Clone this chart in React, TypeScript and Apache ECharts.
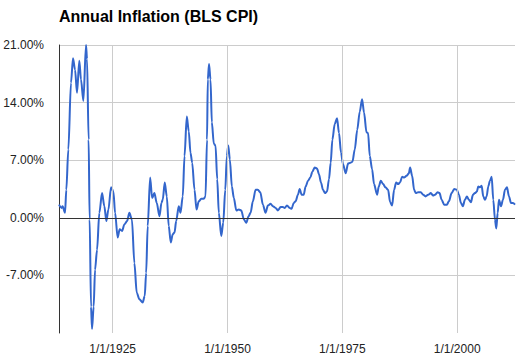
import React, { useEffect, useRef } from "react";
import * as echarts from "echarts";

const titleText = "Annual Inflation (BLS CPI)";

// decimal years
const years: number[] = [
  1913.32, 1913.88, 1914.1, 1914.63, 1914.91, 1915.35, 1915.93, 1916.37, 1916.81, 1917.24,
  1917.74, 1918.11, 1918.62, 1919.2, 1919.42, 1919.77, 1919.99, 1920.29, 1920.51, 1920.86,
  1921.17, 1921.6, 1922.1, 1922.69, 1923.19, 1923.63, 1924.07, 1924.65, 1925.16, 1925.53,
  1926.09, 1926.53, 1927.05, 1927.55, 1928.14, 1928.64, 1929.19, 1929.73, 1930.24, 1930.82,
  1931.54, 1931.98, 1932.29, 1932.63, 1933.16, 1933.59, 1934.09, 1934.6, 1935.19, 1935.62,
  1935.9, 1936.34, 1936.78, 1937.21, 1937.65, 1938.08, 1938.46, 1938.83, 1939.39, 1939.76,
  1940.26, 1940.64, 1941.14, 1941.57, 1941.94, 1942.31, 1942.82, 1943.25, 1943.75, 1944.28,
  1944.78, 1945.21, 1945.54, 1945.71, 1945.98, 1946.3, 1946.59, 1947.02, 1947.39, 1947.76,
  1948.11, 1948.64, 1949.07, 1949.51, 1949.86, 1950.16, 1950.51, 1950.95, 1951.38, 1951.91,
  1952.47, 1953.0, 1953.56, 1954.09, 1954.59, 1955.02, 1955.52, 1956.11, 1956.61, 1957.14,
  1957.7, 1958.29, 1958.79, 1959.38, 1959.88, 1960.47, 1960.97, 1961.56, 1962.06, 1962.44,
  1962.94, 1963.53, 1963.96, 1964.4, 1964.83, 1965.33, 1965.71, 1966.14, 1966.58, 1967.01,
  1967.51, 1968.04, 1968.47, 1968.97, 1969.48, 1969.91, 1970.35, 1970.78, 1971.22, 1971.66,
  1972.09, 1972.46, 1972.83, 1973.34, 1973.84, 1974.27, 1974.71, 1975.15, 1975.73, 1976.24,
  1976.76, 1977.19, 1977.7, 1978.24, 1978.79, 1979.29, 1979.72, 1980.25, 1980.6, 1980.97,
  1981.47, 1981.9, 1982.56, 1982.93, 1983.36, 1983.87, 1984.39, 1984.96, 1985.39, 1985.83,
  1986.26, 1986.7, 1987.14, 1987.57, 1988.01, 1988.44, 1988.97, 1989.47, 1989.75, 1990.19,
  1990.62, 1990.99, 1991.5, 1992.08, 1992.59, 1993.11, 1993.68, 1994.26, 1994.77, 1995.14,
  1995.73, 1996.16, 1996.6, 1997.16, 1997.75, 1998.19, 1998.78, 1999.34, 1999.93, 2000.37,
  2000.81, 2001.24, 2001.68, 2002.11, 2002.55, 2002.99, 2003.42, 2003.86, 2004.29, 2004.58,
  2004.95, 2005.32, 2005.67, 2006.04, 2006.41, 2006.76, 2007.13, 2007.5, 2007.85, 2008.22,
  2008.5, 2008.81, 2009.09, 2009.53, 2009.96, 2010.4, 2010.83, 2011.27, 2011.71, 2012.14,
  2012.58,
];

// annual inflation, percent
const inflation: number[] = [
  1.6, 1.2, 1.4, 0.6, 3.4, 8.3, 16.4, 19.4, 18.0, 15.2,
  19.1, 16.8, 14.2, 21.0, 19.3, 9.5, -0.2, -10.8, -13.5, -10.8,
  -6.3, -3.9, 0.6, 3.0, 1.4, -0.4, 1.0, 3.7, 3.2, 0.6,
  -2.4, -1.4, -1.6, -0.8, -0.4, 0.6, -0.2, -5.5, -9.1, -9.9,
  -10.3, -9.5, -6.7, -1.0, 4.9, 2.4, 3.0, 1.8, 0.2, 1.8,
  2.2, 4.3, 2.6, -1.0, -3.0, -2.0, -1.8, -0.4, 1.4, 0.6,
  2.6, 7.5, 12.3, 10.5, 7.9, 6.7, 3.4, 1.0, 2.0, 2.3,
  2.3, 2.6, 9.5, 16.8, 18.7, 16.8, 11.6, 9.0, 8.8, 4.7,
  0.6, -2.2, -0.6, 3.4, 7.5, 8.8, 7.1, 3.8, 2.4, 0.9,
  1.0, 0.9, -0.2, -0.6, 0.2, 0.6, 2.0, 3.4, 3.4, 3.1,
  1.6, 0.6, 1.5, 1.7, 1.4, 1.2, 0.9, 1.3, 1.3, 1.2,
  1.5, 1.2, 1.1, 1.8, 2.0, 2.8, 3.5, 2.8, 2.8, 3.8,
  4.5, 4.9, 5.6, 6.1, 6.0, 5.3, 4.3, 3.4, 3.0, 3.2,
  4.7, 6.7, 9.5, 11.4, 12.1, 10.3, 7.9, 6.5, 5.4, 6.6,
  6.7, 6.8, 8.3, 10.7, 12.9, 14.4, 12.8, 10.4, 10.3, 7.5,
  5.9, 4.1, 2.8, 3.8, 4.5, 4.1, 3.7, 3.4, 1.9, 1.5,
  3.4, 4.3, 4.1, 4.3, 5.0, 4.9, 5.1, 5.4, 6.1, 5.1,
  3.4, 3.0, 3.1, 3.1, 2.8, 2.6, 2.8, 3.0, 2.7, 2.8,
  3.1, 3.0, 2.2, 1.6, 1.6, 2.0, 3.0, 3.5, 3.4, 2.8,
  1.8, 1.4, 2.2, 2.6, 2.2, 1.9, 2.8, 3.0, 3.2, 3.8,
  3.7, 3.9, 2.6, 2.2, 2.6, 3.8, 4.5, 5.0, 2.2, -0.2,
  -1.3, 0.6, 2.2, 1.4, 2.2, 3.4, 3.7, 2.6, 1.8, 1.8,
  1.6,
];

const xTickYears: number[] = [1925, 1950, 1975, 2000];

export default function App() {
  const ref = useRef<HTMLDivElement>(null);

  useEffect(() => {
    document.body.style.margin = "0";
    if (!ref.current) return;
    const chart = echarts.init(ref.current, null, { renderer: "svg" });
    const data = years.map((y, i) => [y, inflation[i]]);
    const font = "Arial, 'Liberation Sans', sans-serif";
    chart.setOption({
      animation: false,
      backgroundColor: "#ffffff",
      title: {
        text: titleText,
        left: 59,
        top: 8,
        padding: 0,
        textStyle: { fontFamily: font, fontSize: 16, fontWeight: "bold", color: "#000000" },
      },
      grid: { left: 59, right: 6, top: 45, bottom: 29, containLabel: false },
      xAxis: {
        type: "value",
        min: "dataMin",
        max: "dataMax",
        axisLine: { show: false, onZero: false },
        axisTick: { show: false },
        splitLine: { show: false },
        axisLabel: {
          customValues: xTickYears,
          formatter: (v: number) => "1/1/" + Math.round(v),
          fontFamily: font,
          fontSize: 12,
          color: "#222222",
          margin: 10,
        },
      },
      yAxis: {
        type: "value",
        min: -14,
        max: 21,
        interval: 7,
        axisLine: { show: true, lineStyle: { color: "#333333", width: 1 } },
        axisTick: { show: false },
        splitLine: { show: true, showMinLine: false, lineStyle: { color: "#cccccc", width: 1 } },
        axisLabel: {
          showMinLabel: false,
          formatter: (v: number) => v.toFixed(2) + "%",
          fontFamily: font,
          fontSize: 12,
          color: "#222222",
          margin: 15,
        },
      },
      series: [
        {
          type: "line",
          data: [[years[0], 0]],
          symbol: "none",
          lineStyle: { width: 0, opacity: 0 },
          silent: true,
          z: 1,
          markLine: {
            silent: true,
            symbol: ["none", "none"],
            label: { show: false },
            lineStyle: { color: "#cccccc", type: "solid", width: 1 },
            data: [
              ...xTickYears.map((y) => ({ xAxis: y })),
              { yAxis: 0, lineStyle: { color: "#333333", type: "solid", width: 1 } },
            ],
          },
        },
        {
          type: "line",
          data,
          symbol: "none",
          smooth: 0.3,
          smoothMonotone: "x",
          z: 3,
          lineStyle: { color: "#3366cc", width: 2 },
        },
      ],
    });
    return () => chart.dispose();
  }, []);

  return <div ref={ref} style={{ position: "absolute", left: 0, top: 0, width: 521, height: 362 }} />;
}
